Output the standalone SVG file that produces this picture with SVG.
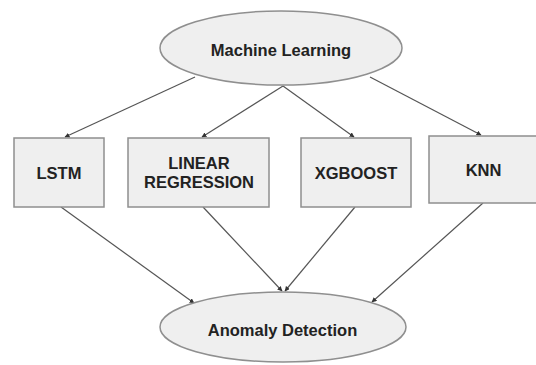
<svg xmlns="http://www.w3.org/2000/svg" width="536" height="365" viewBox="0 0 536 365">
  <style>
    .node { fill: #efefef; stroke: #8f8f8f; stroke-width: 1.5; }
    .label { font-family: "Liberation Sans", Arial, sans-serif; font-weight: bold; font-size: 16.5px; fill: #222; text-anchor: middle; }
    .edge { stroke: #555; stroke-width: 1.2; fill: none; marker-end: url(#arrow); }
  </style>
  <defs>
    <marker id="arrow" viewBox="0 0 10 10" refX="9" refY="5" markerWidth="5" markerHeight="5" orient="auto" markerUnits="userSpaceOnUse">
      <path d="M0,0 L10,5 L0,10 z" fill="#333"/>
    </marker>
  </defs>
  <rect width="536" height="365" fill="#ffffff"/>

  <g id="connectors">
    <line class="edge" x1="195" y1="77" x2="65" y2="137"/>
    <line class="edge" x1="283" y1="86" x2="202" y2="137"/>
    <line class="edge" x1="283" y1="86" x2="354" y2="137"/>
    <line class="edge" x1="370" y1="77" x2="481" y2="135"/>
    <line class="edge" x1="61" y1="207" x2="194" y2="303"/>
    <line class="edge" x1="203" y1="207" x2="282" y2="291"/>
    <line class="edge" x1="355" y1="207" x2="285" y2="291"/>
    <line class="edge" x1="483" y1="203" x2="372" y2="302"/>
  </g>

  <g id="machine-learning">
    <ellipse class="node" cx="281" cy="48" rx="121" ry="37"/>
    <text class="label" x="281" y="56">Machine Learning</text>
  </g>

  <g id="lstm">
    <rect class="node" x="14" y="138" width="90" height="69"/>
    <text class="label" x="59" y="179">LSTM</text>
  </g>

  <g id="linear-regression">
    <rect class="node" x="128" y="138" width="141" height="69"/>
    <text class="label" x="199" y="169">LINEAR</text>
    <text class="label" x="199" y="188">REGRESSION</text>
  </g>

  <g id="xgboost">
    <rect class="node" x="301" y="138" width="110" height="69"/>
    <text class="label" x="356" y="179">XGBOOST</text>
  </g>

  <g id="knn">
    <rect class="node" x="429" y="136" width="109" height="67"/>
    <text class="label" x="483.5" y="176">KNN</text>
  </g>

  <g id="anomaly-detection">
    <ellipse class="node" cx="283" cy="327" rx="123" ry="35"/>
    <text class="label" x="282.5" y="336">Anomaly Detection</text>
  </g>
</svg>
